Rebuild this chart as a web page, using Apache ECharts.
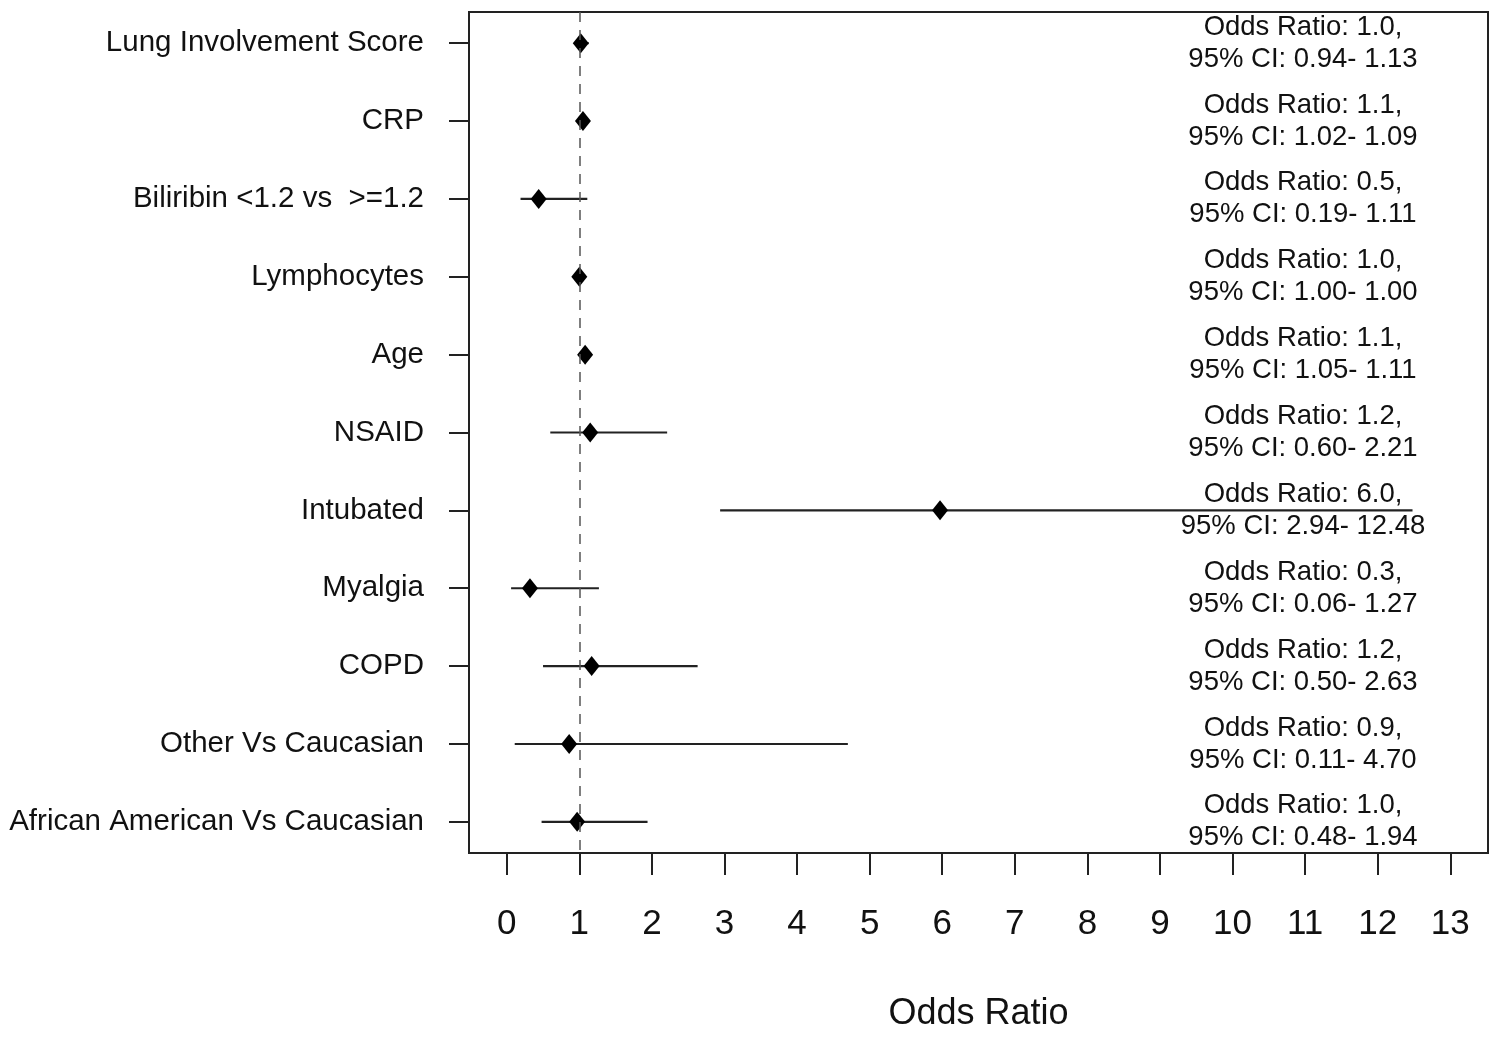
<!DOCTYPE html>
<html>
<head>
<meta charset="utf-8">
<script src="https://cdn.jsdelivr.net/npm/echarts@6/dist/echarts.min.js"></script>
<style>
html,body{margin:0;padding:0;background:#fff;}
#chart{width:1500px;height:1038px;}
</style>
</head>
<body>
<div id="chart"></div>
<script>
const categories = [
  'Lung Involvement Score',
  'CRP',
  'Biliribin <1.2 vs  >=1.2',
  'Lymphocytes',
  'Age',
  'NSAID',
  'Intubated',
  'Myalgia',
  'COPD',
  'Other Vs Caucasian',
  'African American Vs Caucasian'
];
const orValues = [1.02, 1.05, 0.44, 1.00, 1.08, 1.15, 5.97, 0.32, 1.17, 0.86, 0.97];
const ciLow    = [0.94, 1.02, 0.19, 1.00, 1.05, 0.60, 2.94, 0.06, 0.50, 0.11, 0.48];
const ciHigh   = [1.13, 1.09, 1.11, 1.00, 1.11, 2.21, 12.48, 1.27, 2.63, 4.70, 1.94];
const orLabels = ['1.0', '1.1', '0.5', '1.0', '1.1', '1.2', '6.0', '0.3', '1.2', '0.9', '1.0'];
const xTicks = [0,1,2,3,4,5,6,7,8,9,10,11,12,13];
const yTicks = [0,1,2,3,4,5,6,7,8,9,10];

const FONT = "'Liberation Sans', Arial, Helvetica, sans-serif";
const chart = echarts.init(document.getElementById('chart'), null, {renderer: 'canvas'});

const option = {
  animation: false,
  backgroundColor: '#fff',
  grid: {
    left: 469, right: 12, top: 12, bottom: 185,
    containLabel: false,
    outerBoundsMode: 'none',
    show: true, borderColor: '#222', borderWidth: 2, backgroundColor: 'transparent'
  },
  xAxis: {
    type: 'value',
    min: -0.52, max: 13.52,
    axisLine: {show: true, onZero: false, lineStyle: {color: '#222', width: 2}},
    axisTick: {show: true, customValues: xTicks, length: 22, lineStyle: {color: '#222', width: 2}},
    axisLabel: {
      show: true, customValues: xTicks, fontSize: 35, fontFamily: FONT, color: '#111', margin: 54,
      formatter: v => String(v)
    },
    splitLine: {show: false},
    name: 'Odds Ratio',
    nameLocation: 'middle',
    nameGap: 143,
    nameTextStyle: {fontSize: 36, fontFamily: FONT, color: '#111'}
  },
  yAxis: {
    type: 'value',
    inverse: true,
    min: -0.4, max: 10.4,
    axisLine: {show: true, onZero: false, lineStyle: {color: '#222', width: 2}},
    axisTick: {show: true, customValues: yTicks, length: 20, lineStyle: {color: '#222', width: 2}},
    axisLabel: {
      show: true, customValues: yTicks, fontSize: 29.5, fontFamily: FONT, color: '#111', margin: 45,
      padding: [4, 0, 0, 0],
      formatter: v => categories[Math.round(v)]
    },
    splitLine: {show: false}
  },
  series: [
    {
      type: 'custom',
      name: 'CI',
      encode: {x: [1, 2], y: 0},
      data: categories.map((c, i) => [i, ciLow[i], ciHigh[i]]),
      renderItem: function (params, api) {
        const i = api.value(0);
        const p1 = api.coord([api.value(1), i]);
        const p2 = api.coord([api.value(2), i]);
        return {
          type: 'line',
          shape: {x1: p1[0], y1: p1[1], x2: p2[0], y2: p2[1]},
          style: {stroke: '#222', lineWidth: 2.2}
        };
      },
      markLine: {
        silent: true,
        symbol: 'none',
        label: {show: false},
        lineStyle: {type: [10, 8], color: '#555', width: 1.5},
        data: [{xAxis: 1}]
      },
      z: 2
    },
    {
      type: 'scatter',
      name: 'OR',
      symbol: 'diamond',
      symbolSize: [16, 20],
      itemStyle: {color: '#000', opacity: 1},
      data: orValues.map((v, i) => [v, i]),
      z: 3
    },
    {
      type: 'custom',
      name: 'labels',
      encode: {x: 1, y: 0},
      data: categories.map((c, i) => [i, 1]),
      renderItem: function (params, api) {
        const i = api.value(0);
        const cs = params.coordSys;
        const y = api.coord([0, i])[1];
        const txt = 'Odds Ratio: ' + orLabels[i] + ',\n95% CI: ' + ciLow[i].toFixed(2) + '- ' + ciHigh[i].toFixed(2);
        return {
          type: 'text',
          x: cs.x + cs.width - 185,
          y: y,
          style: {
            text: txt,
            align: 'center',
            verticalAlign: 'middle',
            fontSize: 27.5,
            fontFamily: FONT,
            lineHeight: 32,
            fill: '#111'
          }
        };
      },
      z: 4
    }
  ]
};
chart.setOption(option);
</script>
</body>
</html>
